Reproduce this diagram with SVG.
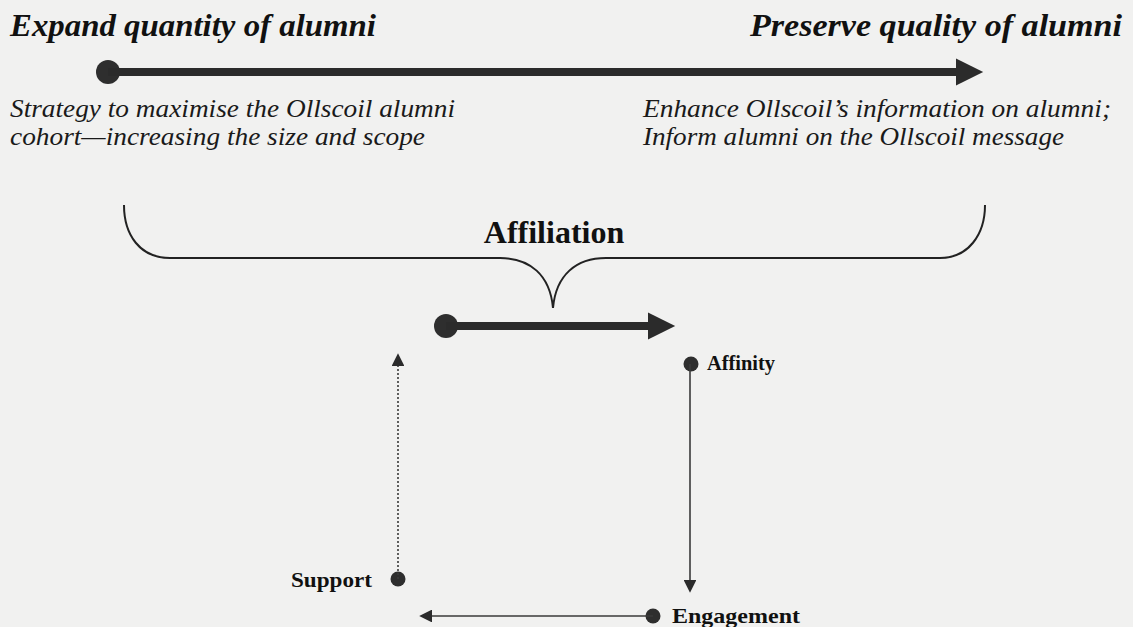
<svg xmlns="http://www.w3.org/2000/svg" width="1133" height="627" viewBox="0 0 1133 627">
  <style>
    .title { font-family: "Liberation Serif", "Times New Roman", serif; font-weight: bold; font-style: italic; font-size: 31px; fill: #111; }
    .note { font-family: "Liberation Serif", "Times New Roman", serif; font-style: italic; font-size: 25px; fill: #1a1a1a; }
    .head { font-family: "Liberation Serif", "Times New Roman", serif; font-weight: bold; font-size: 32px; fill: #111; }
    .label { font-family: "Liberation Serif", "Times New Roman", serif; font-weight: bold; font-size: 22px; fill: #111; }
    .thick { stroke: #2b2b2b; stroke-width: 8; fill: none; }
    .thin { stroke: #3a3a3a; stroke-width: 1.6; fill: none; }
    .dotted { stroke: #3a3a3a; stroke-width: 1.6; stroke-dasharray: 2 2; fill: none; }
    .dot { fill: #2e2e2e; }
    .brace { stroke: #222; stroke-width: 2; fill: none; }
  </style>
  <defs>
    <marker id="bigHead" viewBox="0 0 10 10" refX="0" refY="5" markerWidth="3.7" markerHeight="3.4" markerUnits="strokeWidth" orient="auto">
      <path d="M0,0 L10,5 L0,10 z" fill="#2b2b2b"/>
    </marker>
    <marker id="smallHead" viewBox="0 0 10 10" refX="0" refY="5" markerWidth="8" markerHeight="8" markerUnits="strokeWidth" orient="auto">
      <path d="M0,0 L10,5 L0,10 z" fill="#2b2b2b"/>
    </marker>
  </defs>

  <rect x="0" y="0" width="1133" height="627" fill="#f1f1f0"/>

  <!-- headings over the continuum -->
  <g id="quantity">
    <text class="title" x="10" y="36" textLength="366" lengthAdjust="spacingAndGlyphs">Expand quantity of alumni</text>
    <text class="note" x="10" y="117" textLength="445" lengthAdjust="spacingAndGlyphs">Strategy to maximise the Ollscoil alumni</text>
    <text class="note" x="10" y="145" textLength="415" lengthAdjust="spacingAndGlyphs">cohort—increasing the size and scope</text>
  </g>
  <g id="quality">
    <text class="title" x="750" y="36" textLength="372" lengthAdjust="spacingAndGlyphs">Preserve quality of alumni</text>
    <text class="note" x="643" y="117" textLength="468" lengthAdjust="spacingAndGlyphs">Enhance Ollscoil’s information on alumni;</text>
    <text class="note" x="643" y="145" textLength="421" lengthAdjust="spacingAndGlyphs">Inform alumni on the Ollscoil message</text>
  </g>

  <!-- affiliation brace -->
  <g id="affiliation">
    <path class="brace" d="M124,205 C124,235 140,258 170,258 L500,258 C530,258 550,275 553,308 C556,275 576,258 606,258 L940,258 C968,258 985,235 985,205"/>
    <text class="head" x="554" y="243" text-anchor="middle">Affiliation</text>
  </g>

  <!-- nodes -->
  <g id="affinity">
    <circle class="dot" cx="691" cy="364" r="7.5"/>
    <text class="label" x="707" y="370" textLength="68" lengthAdjust="spacingAndGlyphs">Affinity</text>
  </g>
  <g id="support">
    <circle class="dot" cx="398" cy="579" r="7.5"/>
    <text class="label" x="291" y="587" textLength="81" lengthAdjust="spacingAndGlyphs">Support</text>
  </g>
  <g id="engagement">
    <circle class="dot" cx="653" cy="616" r="7.5"/>
    <text class="label" x="672" y="623" textLength="128" lengthAdjust="spacingAndGlyphs">Engagement</text>
  </g>

  <!-- connectors -->
  <g id="connectors">
    <circle class="dot" cx="108" cy="72" r="12"/>
    <line class="thick" x1="108" y1="72" x2="956" y2="72" marker-end="url(#bigHead)"/>
    <circle class="dot" cx="446" cy="326" r="12"/>
    <line class="thick" x1="446" y1="326" x2="648" y2="326" marker-end="url(#bigHead)"/>
    <line class="thin" x1="690" y1="364" x2="690" y2="580" marker-end="url(#smallHead)"/>
    <line class="thin" x1="653" y1="616" x2="432" y2="616" marker-end="url(#smallHead)"/>
    <line class="dotted" x1="398" y1="579" x2="398" y2="366" marker-end="url(#smallHead)"/>
  </g>
</svg>
